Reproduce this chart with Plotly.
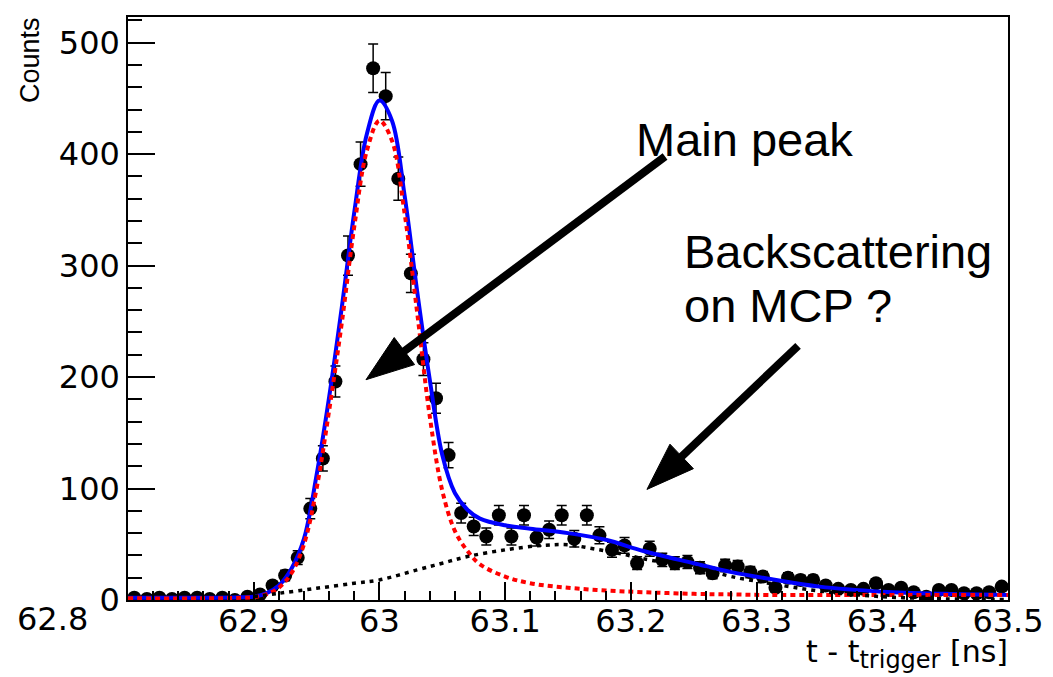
import math
import numpy as np
import plotly.graph_objects as go

# ---------------- data ----------------
bin_edges = np.round(np.arange(62.80, 63.5001, 0.01), 3)
bin_centers = np.round((bin_edges[:-1] + bin_edges[1:]) / 2, 4)

counts = [2, 1, 2, 1, 2, 2, 1, 2, 0, 3,
          5, 13, 22, 38, 82, 127, 196, 309, 391, 477,
          452, 378, 293, 216, 181, 130, 78, 66, 57, 76,
          57, 76, 56, 63, 76, 55, 76, 58, 45, 49,
          33, 46, 36, 33, 34, 29, 24, 31, 30, 25,
          21, 11, 20, 18, 18, 13, 10, 9, 10, 15,
          9, 11, 7, 3, 9, 9, 6, 6, 7, 12]

# total fit curve (blue)
fit_x = [62.80, 62.86, 62.89, 62.90, 62.91, 62.92, 62.93, 62.94, 62.95, 62.96,
         62.97, 62.98, 62.99, 63.00, 63.01, 63.02, 63.03, 63.04, 63.05, 63.06,
         63.07, 63.08, 63.10, 63.12, 63.15, 63.18, 63.21, 63.25, 63.28, 63.31,
         63.35, 63.40, 63.45, 63.50]
fit_total = [2, 2, 2.5, 3, 6, 13, 28, 55, 112, 182,
             262, 348, 418, 448, 430, 363, 277, 198, 130, 96,
             81, 73, 67, 64, 60, 54, 44, 33, 25, 19,
             12, 7.5, 5.5, 4.5]
# main-peak component (red dotted)
fit_peak = [1.5, 1.5, 2, 2.5, 5, 11, 24, 50, 100, 170,
            248, 335, 403, 430, 412, 347, 258, 165, 98, 62,
            44, 32, 21, 15, 11, 8.5, 7, 5.5, 5, 4.5,
            4.5, 4.5, 4.5, 4.5]
# backscattering component (black dotted)
bs_x = [62.90, 62.92, 62.95, 62.98, 63.00, 63.03, 63.05, 63.07, 63.10, 63.13,
        63.15, 63.17, 63.19, 63.21, 63.24, 63.26, 63.28, 63.31, 63.35, 63.40,
        63.45, 63.50]
bs_y = [3, 6, 10.5, 15, 18, 27, 33, 39, 45, 49,
        49.5, 46, 42, 37, 31, 27, 21, 15, 8, 3,
        1, 0.5]

x_ticks = [62.9, 63.0, 63.1, 63.2, 63.3, 63.4, 63.5]
x_tick_text = ["62.9", "63", "63.1", "63.2", "63.3", "63.4", "63.5"]
first_x_label = "62.8"

# ---------------- layout constants ----------------
OFF = 8                      # page body margin of the html page
W, H = 1053 - OFF, 677 - OFF
ML, MT = 128 - OFF, 15 - OFF
PW, PH = 880, 585
MR = W - ML - PW
MB = H - MT - PH
XR = [62.8, 63.5]
YR = [0, 523]
sx = PW / (XR[1] - XR[0])
sy = PH / (YR[1] - YR[0])

AX_FONT = "DejaVu Sans"
TXT_FONT = "Liberation Sans, Arial, sans-serif"

fig = go.Figure()

fig.add_trace(go.Scatter(
    x=bin_centers, y=counts, mode="markers",
    marker=dict(color="black", size=14, symbol="circle"),
    error_y=dict(type="data", array=np.sqrt(np.array(counts, dtype=float)),
                 color="black", thickness=1.5, width=5),
    hoverinfo="skip"))

fig.add_trace(go.Scatter(
    x=fit_x, y=fit_total, mode="lines",
    line=dict(color="#0000ff", width=4, shape="spline", smoothing=1.0)))

fig.add_trace(go.Scatter(
    x=fit_x, y=fit_peak, mode="lines",
    line=dict(color="#ff0000", width=4, dash="5px,4px", shape="spline", smoothing=1.0)))

fig.add_trace(go.Scatter(
    x=bs_x, y=bs_y, mode="lines",
    line=dict(color="black", width=3.5, dash="4px,5px", shape="spline", smoothing=1.0)))


def arrow_shapes(tail, tip, head_len=48, head_half=17, width=8):
    dx = (tip[0] - tail[0]) * sx
    dy = (tip[1] - tail[1]) * sy
    L = math.hypot(dx, dy)
    ux, uy = dx / L, dy / L
    nx, ny = -uy, ux
    bx = tip[0] - ux * head_len / sx
    by = tip[1] - uy * head_len / sy
    p1 = (bx + nx * head_half / sx, by + ny * head_half / sy)
    p2 = (bx - nx * head_half / sx, by - ny * head_half / sy)
    ex = tip[0] - ux * (head_len - 6) / sx
    ey = tip[1] - uy * (head_len - 6) / sy
    shaft = dict(type="line", xref="x", yref="y", x0=tail[0], y0=tail[1], x1=ex, y1=ey,
                 line=dict(color="black", width=width), layer="above")
    head = dict(type="path", xref="x", yref="y",
                path=f"M {tip[0]},{tip[1]} L {p1[0]},{p1[1]} L {p2[0]},{p2[1]} Z",
                fillcolor="black", line=dict(color="black", width=1), layer="above")
    return [shaft, head]


shapes = []
shapes += arrow_shapes((63.2272, 397.8), (62.9893, 197.6))
shapes += arrow_shapes((63.333, 228.0), (63.2128, 99.2))


# screen-pixel position (as seen in the page) -> paper coordinates
def px_x(p):
    return (p - OFF - ML) / PW


def px_y(p):
    return (MT + PH - (p - OFF)) / PH


annotations = [
    dict(text=first_x_label, xref="paper", yref="paper", x=px_x(52), y=px_y(619),
         xanchor="center", yanchor="middle", showarrow=False,
         font=dict(family=AX_FONT, size=32, color="black")),
    dict(text="Counts", xref="paper", yref="paper", x=px_x(30), y=px_y(13),
         xanchor="center", yanchor="top", textangle=-90, showarrow=False,
         font=dict(family=TXT_FONT, size=27, color="black")),
    dict(text="t - t<sub><span style='font-size:24px'>trigger</span></sub> [ns]",
         xref="paper", yref="paper",
         x=px_x(1010), y=px_y(654), xanchor="right", yanchor="middle", showarrow=False,
         font=dict(family=AX_FONT, size=30, color="black")),
    dict(text="Main peak", xref="paper", yref="paper", x=px_x(634), y=px_y(138),
         xanchor="left", yanchor="middle", showarrow=False,
         font=dict(family=TXT_FONT, size=47, color="black")),
    dict(text="Backscattering", xref="paper", yref="paper", x=px_x(682), y=px_y(250),
         xanchor="left", yanchor="middle", showarrow=False,
         font=dict(family=TXT_FONT, size=47, color="black")),
    dict(text="on MCP ?", xref="paper", yref="paper", x=px_x(682), y=px_y(304),
         xanchor="left", yanchor="middle", showarrow=False,
         font=dict(family=TXT_FONT, size=47, color="black")),
]

fig.update_layout(
    width=W, height=H,
    margin=dict(l=ML, r=MR, t=MT, b=MB, pad=0),
    paper_bgcolor="white", plot_bgcolor="white",
    showlegend=False,
    shapes=shapes,
    annotations=annotations,
    xaxis=dict(
        range=XR, tickmode="array", tickvals=x_ticks, ticktext=x_tick_text,
        ticks="inside", ticklen=18, tickwidth=1.5, tickcolor="black",
        showline=True, linecolor="black", linewidth=1.5, mirror=True,
        showgrid=False, zeroline=False, ticklabelstandoff=-8,
        tickfont=dict(family=AX_FONT, size=32, color="black"),
        minor=dict(tickmode="linear", tick0=62.8, dtick=0.02, ticks="inside",
                   ticklen=9, tickwidth=1.5, tickcolor="black", showgrid=False),
    ),
    yaxis=dict(
        range=YR, tickmode="linear", tick0=0, dtick=100,
        ticks="inside", ticklen=27, tickwidth=1.5, tickcolor="black",
        showline=True, linecolor="black", linewidth=1.5, mirror=True,
        showgrid=False, zeroline=False,
        tickfont=dict(family=AX_FONT, size=32, color="black"),
        minor=dict(tickmode="linear", tick0=0, dtick=20, ticks="inside",
                   ticklen=14, tickwidth=1.5, tickcolor="black", showgrid=False),
    ),
)

fig.write_html("out.html")
